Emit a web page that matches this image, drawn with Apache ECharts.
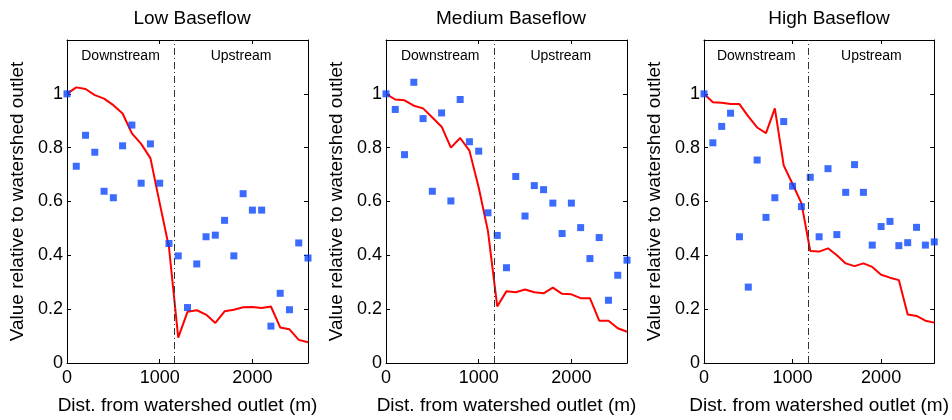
<!DOCTYPE html>
<html>
<head>
<meta charset="utf-8">
<script src="https://cdn.jsdelivr.net/npm/echarts@6/dist/echarts.min.js"></script>
<style>
  html, body { margin: 0; padding: 0; background: #fff; }
  #chart { width: 952px; height: 420px; }
</style>
</head>
<body>
<div id="chart"></div>
<script>
// distance from outlet (m)
const dist = [0, 100, 200, 300, 400, 500, 600, 700, 800, 900, 1000, 1100, 1200, 1300,
  1400, 1500, 1600, 1700, 1800, 1900, 2000, 2100, 2200, 2300, 2400, 2500, 2600]

const titles = ['Low Baseflow', 'Medium Baseflow', 'High Baseflow']
const splitAt = [1155, 1170, 1180]

// measured points (blue squares)
const lowPts = [1.0, 0.731, 0.846, 0.783, 0.638, 0.614, 0.807, 0.884, 0.668, 0.814, 0.668, 0.444, 0.398,
  0.206, 0.368, 0.469, 0.475, 0.53, 0.398, 0.629, 0.568, 0.568, 0.137, 0.259, 0.198, 0.446, 0.39]
const medPts = [1.0, 0.942, 0.774, 1.043, 0.908, 0.638, 0.929, 0.602, 0.979, 0.822, 0.787, 0.558, 0.474,
  0.354, 0.693, 0.546, 0.659, 0.644, 0.594, 0.481, 0.594, 0.503, 0.388, 0.466, 0.233, 0.326, 0.382]
const highPts = [1.0, 0.818, 0.879, 0.928, 0.469, 0.282, 0.754, 0.541, 0.614, 0.897, 0.657, 0.581, 0.69,
  0.469, 0.722, 0.477, 0.634, 0.737, 0.634, 0.438, 0.507, 0.526, 0.436, 0.447, 0.504, 0.438, 0.45]

// modelled (red line)
const lowLine = [1.0, 1.024, 1.018, 0.995, 0.982, 0.958, 0.927, 0.853, 0.814, 0.761, 0.594, 0.43, 0.094,
  0.19, 0.196, 0.18, 0.149, 0.192, 0.198, 0.207, 0.208, 0.204, 0.21, 0.132, 0.125, 0.086, 0.077]
const medLine = [1.0, 0.979, 0.976, 0.956, 0.946, 0.912, 0.878, 0.8, 0.836, 0.789, 0.652, 0.49, 0.21,
  0.267, 0.263, 0.273, 0.263, 0.259, 0.28, 0.257, 0.255, 0.241, 0.241, 0.157, 0.157, 0.129, 0.116]
const highLine = [1.0, 0.969, 0.967, 0.962, 0.962, 0.916, 0.875, 0.854, 0.946, 0.734, 0.665, 0.594, 0.416,
  0.414, 0.426, 0.4, 0.37, 0.36, 0.37, 0.357, 0.328, 0.317, 0.308, 0.18, 0.175, 0.157, 0.15]

const pts = [lowPts, medPts, highPts]
const lines = [lowLine, medLine, highLine]
const lefts = [67, 386, 704]

const font = 'Liberation Sans, Arial, sans-serif'
const chart = echarts.init(document.getElementById('chart'))

let grid = [], xAxis = [], yAxis = [], series = [], title = []
for (let i = 0; i < 3; i++) {
  grid.push({ left: lefts[i], top: 40, width: 241, height: 325 })
  title.push({
    text: titles[i], left: lefts[i] + 120, top: 4, textAlign: 'center',
    textStyle: { fontFamily: font, fontSize: 19, fontWeight: 'normal', color: '#000' }
  })
  const axLine = { show: true, onZero: false, lineStyle: { color: '#000', width: 1 } }
  const tick = { inside: true, length: 4, lineStyle: { color: '#000' } }
  xAxis.push({
    type: 'value', gridIndex: i, min: 0, max: 2600, interval: 1000,
    name: 'Dist. from watershed outlet (m)', nameLocation: 'middle', nameGap: 33,
    nameTextStyle: { fontFamily: font, fontSize: 19, color: '#000' },
    axisLine: axLine, splitLine: { show: false }, axisTick: tick,
    axisLabel: {
      fontFamily: font, fontSize: 18, color: '#000', margin: 6,
      formatter: v => (v % 1000 === 0 ? String(v) : '')
    }
  })
  xAxis.push({
    type: 'value', gridIndex: i, position: 'top', min: 0, max: 2600, interval: 1000,
    axisLine: axLine, splitLine: { show: false }, axisTick: tick,
    axisLabel: { show: false }
  })
  yAxis.push({
    type: 'value', gridIndex: i, min: 0, max: 1.2, interval: 0.2,
    name: 'Value relative to watershed outlet', nameLocation: 'middle', nameGap: 40,
    nameTextStyle: { fontFamily: font, fontSize: 19, color: '#000' },
    axisLine: axLine, splitLine: { show: false }, axisTick: tick,
    axisLabel: {
      fontFamily: font, fontSize: 18, color: '#000', margin: 4,
      formatter: v => (v > 1.1 ? '' : String(Math.round(v * 10) / 10))
    }
  })
  yAxis.push({
    type: 'value', gridIndex: i, position: 'right', min: 0, max: 1.2, interval: 0.2,
    axisLine: axLine, splitLine: { show: false }, axisTick: tick,
    axisLabel: { show: false }
  })

  series.push({
    type: 'line', xAxisIndex: i * 2, yAxisIndex: i * 2, symbol: 'none',
    data: dist.map((d, k) => [d, lines[i][k]]),
    lineStyle: { color: '#ff0000', width: 2 }, z: 3,
    markLine: {
      silent: true, symbol: 'none', label: { show: false },
      lineStyle: { color: '#333', width: 1, type: [7, 3, 1, 3] },
      data: [{ xAxis: splitAt[i] }]
    },
    markArea: {
      silent: true, itemStyle: { color: 'transparent' },
      label: { position: 'insideTop', distance: 9, fontFamily: font, fontSize: 14, color: '#000' },
      data: [
        [{ name: 'Downstream', xAxis: 0, yAxis: 1.2 }, { xAxis: splitAt[i], yAxis: 1.0 }],
        [{ name: 'Upstream', xAxis: splitAt[i], yAxis: 1.2 }, { xAxis: 2600, yAxis: 1.0 }]
      ]
    }
  })
  series.push({
    type: 'scatter', xAxisIndex: i * 2, yAxisIndex: i * 2, symbol: 'rect', symbolSize: 7,
    data: dist.map((d, k) => [d, pts[i][k]]),
    itemStyle: { color: '#0a46ff' }, z: 4
  })
}

chart.setOption({
  animation: false,
  title: title,
  grid: grid,
  xAxis: xAxis,
  yAxis: yAxis,
  series: series
})
</script>
</body>
</html>
